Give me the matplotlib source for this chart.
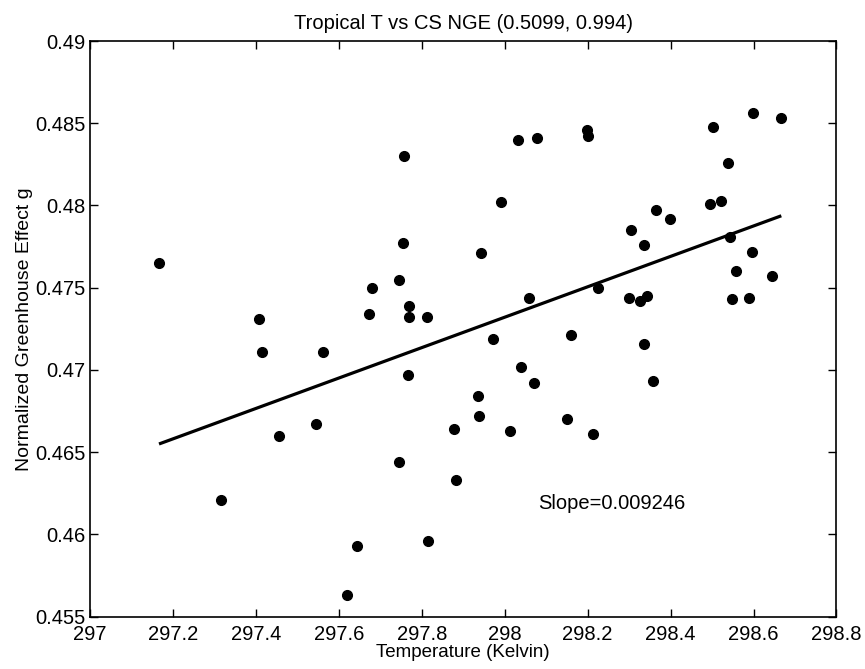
import matplotlib
matplotlib.use("Agg")
import matplotlib.pyplot as plt
import numpy as np

plt.rcParams['font.family'] = ['Liberation Sans', 'DejaVu Sans']

temp = [297.167, 297.408, 297.758, 297.754, 297.744, 297.680, 297.672, 297.770, 297.770, 297.813,
        297.943, 297.991, 298.031, 298.079, 298.198, 298.201, 298.058, 298.224, 298.300, 298.326,
        298.342, 298.305, 298.337, 298.365, 298.398, 298.495, 298.521, 298.502, 298.538, 298.599,
        298.667, 298.544, 298.597, 298.557, 298.645, 298.549, 298.589,
        297.414, 297.561, 297.768, 297.935, 297.939, 297.545, 297.456, 297.879, 297.746, 297.882,
        297.315, 297.643, 297.816, 297.619,
        297.971, 298.159, 298.337, 298.040, 298.071, 298.358, 298.012, 298.150, 298.212]
nge = [0.4765, 0.4731, 0.4830, 0.4777, 0.4755, 0.4750, 0.4734, 0.4739, 0.4732, 0.4732,
       0.4771, 0.4802, 0.4840, 0.4841, 0.4846, 0.4842, 0.4744, 0.4750, 0.4744, 0.4742,
       0.4745, 0.4785, 0.4776, 0.4797, 0.4792, 0.4801, 0.4803, 0.4848, 0.4826, 0.4856,
       0.4853, 0.4781, 0.4772, 0.4760, 0.4757, 0.4743, 0.4744,
       0.4711, 0.4711, 0.4697, 0.4684, 0.4672, 0.4667, 0.4660, 0.4664, 0.4644, 0.4633,
       0.4621, 0.4593, 0.4596, 0.4563,
       0.4719, 0.4721, 0.4716, 0.4702, 0.4692, 0.4693, 0.4663, 0.4670, 0.4661]

fit_x = [297.1665, 298.667]
slope = 0.009246
intercept_at_start = 0.4655

xticks = [297, 297.2, 297.4, 297.6, 297.8, 298, 298.2, 298.4, 298.6, 298.8]
xticklabels = ['297', '297.2', '297.4', '297.6', '297.8', '298', '298.2', '298.4', '298.6', '298.8']
yticks = [0.455, 0.46, 0.465, 0.47, 0.475, 0.48, 0.485, 0.49]
yticklabels = ['0.455', '0.46', '0.465', '0.47', '0.475', '0.48', '0.485', '0.49']

fig = plt.figure(figsize=(8.65, 6.69), dpi=100)
ax = fig.add_axes([0.104, 0.0782, 0.863, 0.8605])

fx = np.array(fit_x)
fy = intercept_at_start + slope * (fx - fit_x[0])
ax.plot(fx, fy, color='black', lw=2.3, solid_capstyle='butt', zorder=2)
ax.plot(temp, nge, 'o', color='black', ms=7, zorder=3)

ax.set_xlim(297, 298.8)
ax.set_ylim(0.455, 0.49)
ax.set_xticks(xticks)
ax.set_xticklabels(xticklabels)
ax.set_yticks(yticks)
ax.set_yticklabels(yticklabels)
ax.tick_params(direction='in', top=True, right=True, length=6, width=1, labelsize=14.5)
ax.tick_params(axis='y', pad=3)
ax.tick_params(axis='x', pad=6)
for s in ax.spines.values():
    s.set_linewidth(1.2)

ax.set_title('Tropical T vs CS NGE (0.5099, 0.994)', fontsize=14.5, pad=9)
ax.set_xlabel('Temperature (Kelvin)', fontsize=13.5, labelpad=0)
ax.set_ylabel('Normalized Greenhouse Effect g', fontsize=14, labelpad=2)
ax.text(298.081, 0.4619, 'Slope=0.009246', fontsize=14.5, ha='left', va='center')

fig.savefig('out.png', dpi=100)
